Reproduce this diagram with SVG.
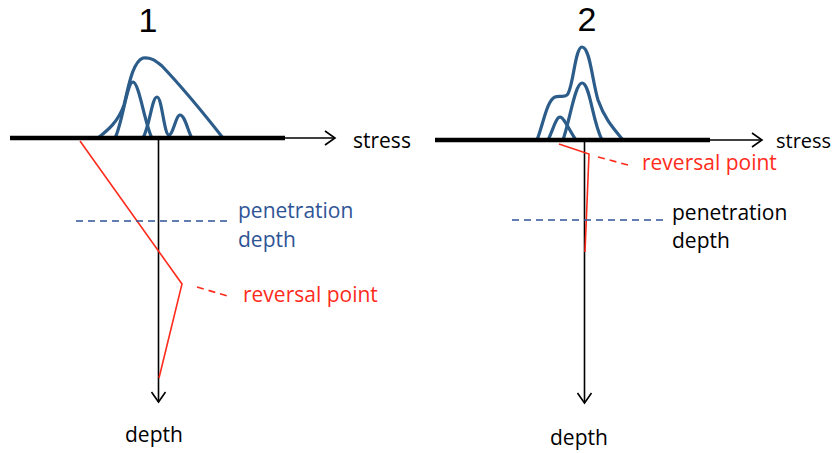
<svg xmlns="http://www.w3.org/2000/svg" width="834" height="453" viewBox="0 0 834 453">
<defs>
<style>
.t{font-family:"Open Sans","Liberation Sans",sans-serif;font-size:21px;fill:#000}
.num{font-family:"Liberation Sans","Open Sans",sans-serif;font-size:34px;fill:#000}
.blue{fill:#2F5496}
.red{fill:#FF2B1C}
.base{stroke:#000;stroke-width:4.5;fill:none}
.ax{stroke:#000;stroke-width:1.6;fill:none}
.curve{stroke:#2B5C8A;stroke-width:3.2;fill:none;stroke-linecap:round;stroke-linejoin:round}
.rl{stroke:#FF2B1C;stroke-width:1.6;fill:none}
.rd{stroke:#FF2B1C;stroke-width:1.6;fill:none;stroke-dasharray:7,5}
.bd{stroke:#2F5496;stroke-width:1.5;fill:none;stroke-dasharray:7,5}
</style>
<marker id="arr" markerWidth="14" markerHeight="18" refX="11" refY="8" orient="auto" markerUnits="userSpaceOnUse">
<path d="M1,1 L11,8 L1,15" stroke="#000" stroke-width="1.6" fill="none"/>
</marker>
</defs>
<g id="panel1">
<text class="num" x="148" y="32" text-anchor="middle">1</text>
<g id="curves1">
<path class="curve" d="M98,138 C108,130 118,122 124,105 C128,90 132,62 143,58 C150,57 155,60 162,66 C180,85 205,115 223,138"/>
<path class="curve" d="M115,138 C122,125 127,82 133,82 C139,82 145,125 152,138"/>
<path class="curve" d="M143,138 C150,125 152,97 157,97 C162,97 164,135 169,135 C173,135 176,115 180,115 C185,115 188,132 192,138"/>
</g>
<g id="connectors1">
<line class="ax" x1="280" y1="138" x2="335" y2="138" marker-end="url(#arr)"/>
<line class="base" x1="10" y1="138" x2="285" y2="138"/>
<line class="ax" x1="158.5" y1="140" x2="158.5" y2="402" marker-end="url(#arr)"/>
<polyline class="rl" points="80,141 182,284 159,378"/>
<line class="rd" x1="197" y1="287" x2="231" y2="297"/>
<line class="bd" x1="76" y1="221" x2="231" y2="221"/>
</g>
<text class="t" x="353" y="148">stress</text>
<text class="t blue" x="238" y="218">penetration</text>
<text class="t blue" x="238" y="247">depth</text>
<text class="t red" x="243" y="302">reversal point</text>
<text class="t" x="125" y="442">depth</text>
</g>
<g id="panel2">
<text class="num" x="587" y="31" text-anchor="middle">2</text>
<g id="curves2">
<path class="curve" d="M537,140 C543,125 547,100 555,97 C560,95 563,98 567,95 C573,90 575,47 582,47 C590,47 592,80 598,100 C605,120 615,130 623,140"/>
<path class="curve" d="M548,140 C553,130 556,117 560,117 C564,117 570,132 576,140"/>
<path class="curve" d="M563,140 C570,120 575,83 582,83 C590,83 592,120 602,140"/>
</g>
<g id="connectors2">
<line class="ax" x1="705" y1="140" x2="762" y2="140" marker-end="url(#arr)"/>
<line class="base" x1="435" y1="140" x2="710" y2="140"/>
<line class="ax" x1="584.5" y1="142" x2="584.5" y2="403" marker-end="url(#arr)"/>
<polyline class="rl" points="559,144 589,154 585,252"/>
<line class="rd" x1="598" y1="157" x2="628" y2="165"/>
<line class="bd" x1="512" y1="220" x2="667" y2="220"/>
</g>
<text class="t" x="776" y="148" style="font-size:20px">stress</text>
<text class="t" x="672" y="220">penetration</text>
<text class="t" x="672" y="248">depth</text>
<text class="t red" x="642" y="170">reversal point</text>
<text class="t" x="550" y="445">depth</text>
</g>
</svg>
